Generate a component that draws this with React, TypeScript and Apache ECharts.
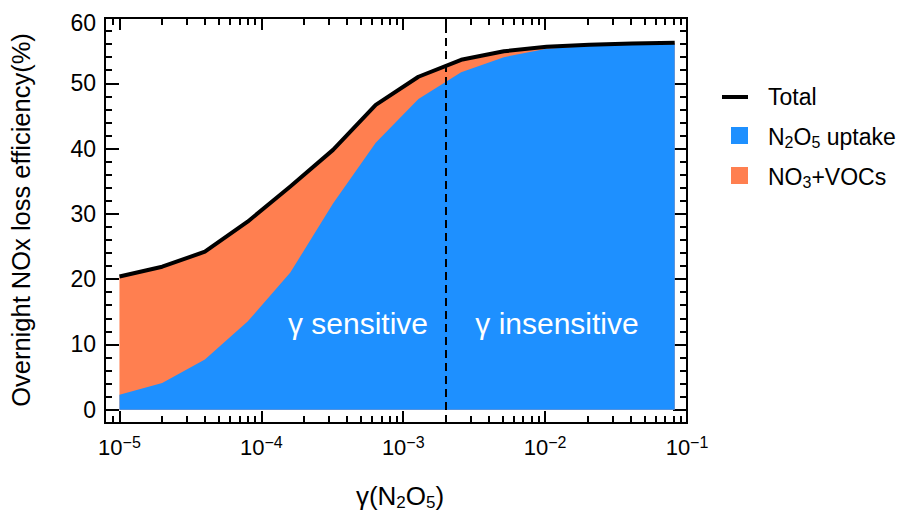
import React, { useEffect, useRef } from "react";
import * as echarts from "echarts";

// ---- data ----
const gammas = [1e-5, 2e-5, 4e-5, 8e-5, 1.6e-4, 3.2e-4, 6.4e-4, 1.28e-3, 2.56e-3, 5.12e-3, 1.024e-2, 2.048e-2, 4.096e-2, 8.192e-2];
const totalEff = [20.4, 21.9, 24.2, 28.8, 34.2, 39.8, 46.7, 51.0, 53.6, 54.9, 55.6, 55.9, 56.1, 56.2];
const n2o5Uptake = [2.3, 4.1, 7.7, 13.5, 21.0, 31.6, 40.9, 47.6, 51.7, 54.0, 55.3, 55.7, 55.9, 56.0];
const xTickExponents = [-5, -4, -3, -2, -1];
const yTickLabels = [0, 10, 20, 30, 40, 50, 60];
const dividerGamma = 2e-3;

const FONT = "Liberation Sans, Arial, Helvetica, sans-serif";
const X_MIN = -5.102;
const X_MAX = -1;
const Y_MIN = -2.04;
const Y_MAX = 60;

function xMinorTicks(): number[] {
  const out: number[] = [];
  for (let d = -6; d <= -2; d++) {
    for (let k = 2; k <= 9; k++) {
      const v = Math.log10(k) + d;
      if (v > X_MIN + 0.01 && v < X_MAX - 0.01) out.push(v);
    }
  }
  return out;
}
function yMinorTicks(): number[] {
  const out: number[] = [];
  for (let v = 2; v < 60; v += 2) if (v % 10 !== 0) out.push(v);
  return out;
}

export default function App() {
  const ref = useRef<HTMLDivElement>(null);
  useEffect(() => {
    if (!ref.current) return;
    const chart = echarts.init(ref.current, undefined, { renderer: "svg" });
    const toXY = (ys: number[]) => gammas.map((g, i) => [Math.log10(g), ys[i]]);
    const minorX = xMinorTicks();
    const minorY = yMinorTicks();

    const axisLine = { show: true, onZero: false, lineStyle: { color: "#000", width: 2 } };
    const baseX = {
      type: "value" as const,
      min: X_MIN,
      max: X_MAX,
      splitLine: { show: false },
      axisLine,
    };
    const baseY = {
      type: "value" as const,
      min: Y_MIN,
      max: Y_MAX,
      splitLine: { show: false },
      axisLine,
    };
    const tickStyle = { color: "#000", width: 2 };

    chart.setOption({
      animation: false,
      grid: { left: 105, right: 211, top: 18, bottom: 88, containLabel: false },
      xAxis: [
        {
          ...baseX,
          position: "bottom",
          axisTick: { show: true, inside: true, length: 12, lineStyle: tickStyle, customValues: xTickExponents },
          axisLabel: {
            show: true,
            margin: 11,
            customValues: xTickExponents,
            formatter: (v: number) => `{b|10}{s|${v < 0 ? "\u2212" : ""}${Math.abs(Math.round(v))}}`,
            rich: {
              b: { fontFamily: FONT, fontSize: 22, lineHeight: 27, color: "#000" },
              s: { fontFamily: FONT, fontSize: 16, lineHeight: 16, verticalAlign: "top", color: "#000" },
            },
          },
        },
        {
          ...baseX,
          position: "bottom",
          axisTick: { show: true, inside: true, length: 7, lineStyle: tickStyle, customValues: minorX },
          axisLabel: { show: false },
        },
        {
          ...baseX,
          position: "top",
          axisTick: { show: true, inside: true, length: 12, lineStyle: tickStyle, customValues: xTickExponents },
          axisLabel: { show: false },
        },
        {
          ...baseX,
          position: "top",
          axisTick: { show: true, inside: true, length: 7, lineStyle: tickStyle, customValues: minorX },
          axisLabel: { show: false },
        },
      ],
      yAxis: [
        {
          ...baseY,
          position: "left",
          axisTick: { show: true, inside: true, length: 14, lineStyle: tickStyle, customValues: yTickLabels },
          axisLabel: {
            show: true,
            margin: 9,
            customValues: yTickLabels,
            fontFamily: FONT,
            fontSize: 23,
            color: "#000",
            formatter: (v: number) => (v === 60 ? `{t|${v}}` : `{n|${v}}`),
            rich: {
              n: { fontFamily: FONT, fontSize: 23, color: "#000" },
              t: { fontFamily: FONT, fontSize: 23, color: "#000", padding: [10, 0, 0, 0] },
            },
          },
        },
        {
          ...baseY,
          position: "left",
          axisTick: { show: true, inside: true, length: 7, lineStyle: tickStyle, customValues: minorY },
          axisLabel: { show: false },
        },
        {
          ...baseY,
          position: "right",
          axisTick: { show: true, inside: true, length: 14, lineStyle: tickStyle, customValues: yTickLabels },
          axisLabel: { show: false },
        },
        {
          ...baseY,
          position: "right",
          axisTick: { show: true, inside: true, length: 7, lineStyle: tickStyle, customValues: minorY },
          axisLabel: { show: false },
        },
      ],
      series: [
        {
          name: "NO3+VOCs",
          type: "line",
          data: toXY(totalEff),
          symbol: "none",
          lineStyle: { width: 0 },
          areaStyle: { color: "#FF7F50", opacity: 1 },
          z: 2,
        },
        {
          name: "N2O5 uptake",
          type: "line",
          data: toXY(n2o5Uptake),
          symbol: "none",
          lineStyle: { width: 0 },
          areaStyle: { color: "#1E90FF", opacity: 1 },
          z: 3,
        },
        {
          name: "Total",
          type: "line",
          data: toXY(totalEff),
          symbol: "none",
          lineStyle: { width: 4, color: "#000", join: "round" },
          z: 5,
          markLine: {
            silent: true,
            symbol: "none",
            label: { show: false },
            lineStyle: { color: "#000", width: 2, type: [8, 5] },
            data: [{ xAxis: Math.log10(dividerGamma) }],
          },
        },
      ],
      graphic: {
        elements: [
          {
            type: "text",
            x: 358,
            y: 323,
            z: 100,
            style: { text: "\u03b3 sensitive", fill: "#fff", font: `30px ${FONT}`, align: "center", verticalAlign: "middle" },
          },
          {
            type: "text",
            x: 557,
            y: 323,
            z: 100,
            style: { text: "\u03b3 insensitive", fill: "#fff", font: `30px ${FONT}`, align: "center", verticalAlign: "middle" },
          },
          {
            type: "text",
            x: 21,
            y: 220,
            rotation: Math.PI / 2,
            z: 100,
            style: {
              text: "Overnight NOx loss efficiency(%)",
              fill: "#000",
              font: `25.5px ${FONT}`,
              align: "center",
              verticalAlign: "middle",
            },
          },
          {
            type: "text",
            x: 400,
            y: 496,
            z: 100,
            style: {
              text: "{m|\u03b3(N}{s|2}{m|O}{s|5}{m|)}",
              align: "center",
              verticalAlign: "middle",
              rich: {
                m: { fontFamily: FONT, fontSize: 26, lineHeight: 30, fill: "#000" },
                s: { fontFamily: FONT, fontSize: 17, lineHeight: 17, verticalAlign: "bottom", fill: "#000" },
              },
            },
          },
          // legend
          { type: "line", z: 100, shape: { x1: 722, y1: 97, x2: 748, y2: 97 }, style: { stroke: "#000", lineWidth: 4 } },
          { type: "rect", z: 100, shape: { x: 731, y: 127, width: 17, height: 17 }, style: { fill: "#1E90FF" } },
          { type: "rect", z: 100, shape: { x: 731, y: 167, width: 17, height: 17 }, style: { fill: "#FF7F50" } },
          {
            type: "text",
            x: 768,
            y: 97,
            z: 100,
            style: { text: "Total", fill: "#000", font: `23px ${FONT}`, align: "left", verticalAlign: "middle" },
          },
          {
            type: "text",
            x: 768,
            y: 137,
            z: 100,
            style: {
              text: "{m|N}{s|2}{m|O}{s|5}{m| uptake}",
              align: "left",
              verticalAlign: "middle",
              rich: {
                m: { fontFamily: FONT, fontSize: 23, lineHeight: 27, fill: "#000" },
                s: { fontFamily: FONT, fontSize: 16, lineHeight: 16, verticalAlign: "bottom", fill: "#000" },
              },
            },
          },
          {
            type: "text",
            x: 768,
            y: 177,
            z: 100,
            style: {
              text: "{m|NO}{s|3}{m|+VOCs}",
              align: "left",
              verticalAlign: "middle",
              rich: {
                m: { fontFamily: FONT, fontSize: 23, lineHeight: 27, fill: "#000" },
                s: { fontFamily: FONT, fontSize: 16, lineHeight: 16, verticalAlign: "bottom", fill: "#000" },
              },
            },
          },
        ],
      },
    });
    return () => chart.dispose();
  }, []);
  return <div ref={ref} style={{ width: 898, height: 511, position: "absolute", left: 0, top: 0 }} />;
}
